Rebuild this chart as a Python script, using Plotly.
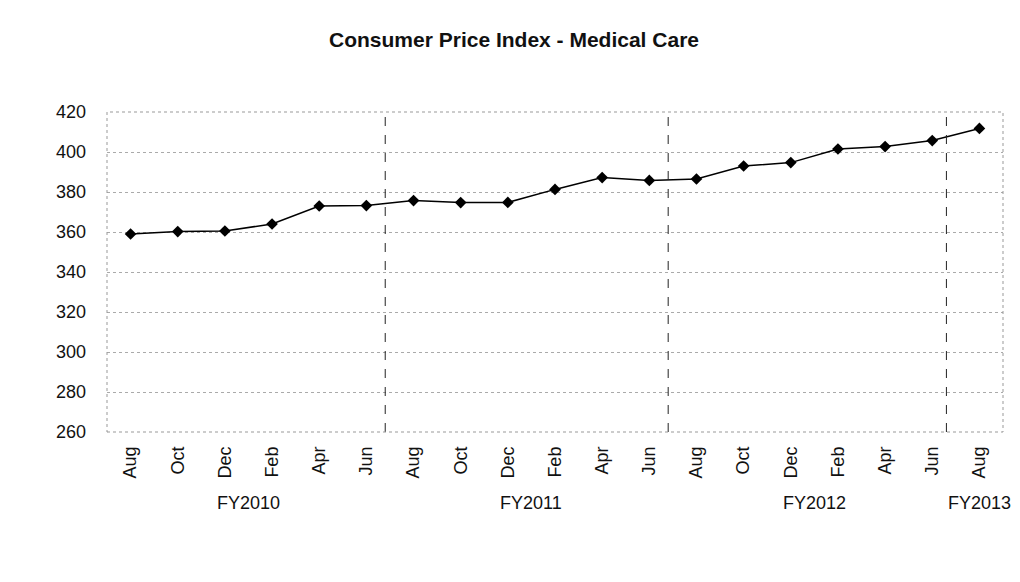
import plotly.graph_objects as go

months = ["Aug", "Oct", "Dec", "Feb", "Apr", "Jun",
          "Aug", "Oct", "Dec", "Feb", "Apr", "Jun",
          "Aug", "Oct", "Dec", "Feb", "Apr", "Jun", "Aug"]
cpi = [359.0, 360.2, 360.5, 364.0, 373.0, 373.2,
       375.7, 374.7, 374.8, 381.3, 387.2, 385.8,
       386.5, 393.0, 394.7, 401.5, 402.7, 405.7, 411.8]
fiscal_years = ["FY2010", "FY2011", "FY2012", "FY2013"]
fy_centers = [2.5, 8.5, 14.5, 18.0]
fy_breaks = [5.4, 11.4, 17.3]

x = list(range(len(months)))
FONT = "Liberation Sans, Arial"

fig = go.Figure()
fig.add_trace(go.Scatter(
    x=x, y=cpi, mode="lines+markers",
    line=dict(color="black", width=1.5),
    marker=dict(symbol="diamond", size=9, color="black"),
    showlegend=False,
))

for b in fy_breaks:
    fig.add_shape(type="line", xref="x", yref="paper", x0=b, x1=b, y0=0, y1=1,
                  line=dict(color="#222", width=1, dash="dash"))

for name, c in zip(fiscal_years, fy_centers):
    fig.add_annotation(x=c, xref="x", y=-0.222, yref="paper", text=name,
                       showarrow=False, yanchor="middle",
                       font=dict(family=FONT, size=18, color="#111"))

# plot border
fig.add_shape(type="rect", xref="paper", yref="paper", x0=0, x1=1, y0=0, y1=1,
              line=dict(color="#999", width=1, dash="dot"))

fig.update_layout(
    width=1012, height=574,
    margin=dict(l=99, r=17, t=104, b=150),
    paper_bgcolor="white", plot_bgcolor="white",
    title=dict(text="<b>Consumer Price Index - Medical Care</b>", x=0.5, xanchor="center",
               y=1 - 32 / 574, yanchor="middle",
               font=dict(family=FONT, size=21, color="#111")),
    font=dict(family=FONT, color="#111"),
    xaxis=dict(tickmode="array", tickvals=x, ticktext=months, tickangle=-90,
               range=[-0.5, len(months) - 0.5], showgrid=False, zeroline=False,
               tickfont=dict(size=18), ticks="", showline=False, ticklabelstandoff=10),
    yaxis=dict(range=[260, 420], dtick=20, showgrid=True, gridcolor="#aaa",
               griddash="dot", gridwidth=1, zeroline=False, tickfont=dict(size=18),
               ticks="", showline=False, ticklabelstandoff=20),
)

fig.write_html("out.html")
